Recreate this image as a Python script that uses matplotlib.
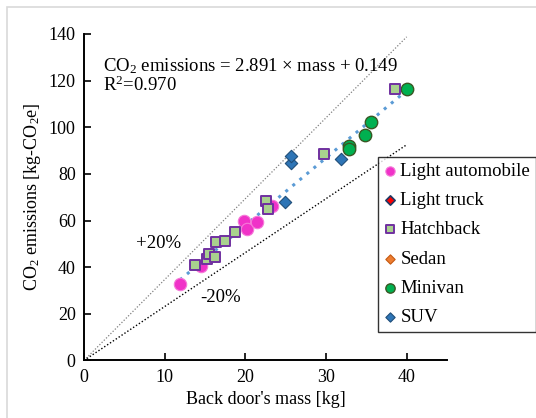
import numpy as np
import matplotlib.pyplot as plt
from matplotlib.patches import Rectangle

plt.rcParams['font.family'] = 'Liberation Serif'
plt.rcParams['mathtext.fontset'] = 'custom'
plt.rcParams['mathtext.rm'] = 'Liberation Serif'
plt.rcParams['mathtext.it'] = 'Liberation Serif:italic'

# back door mass [kg] / CO2 emissions [kg-CO2e] per vehicle type
light_auto_mass = [11.9, 14.5, 19.8, 20.2, 21.4, 23.3]
light_auto_co2 = [32.8, 40.3, 60.0, 56.4, 59.3, 66.4]
light_truck_mass = []
light_truck_co2 = []
hatch_mass = [13.75, 15.3, 15.5, 16.3, 16.4, 17.5, 18.7, 22.6, 22.8, 29.7, 38.6]
hatch_co2 = [41.0, 43.4, 45.7, 44.5, 50.6, 51.4, 55.2, 68.5, 64.9, 88.5, 116.5]
sedan_mass = []
sedan_co2 = []
minivan_mass = [32.8, 32.9, 34.8, 35.6, 40.0]
minivan_co2 = [91.8, 90.6, 96.8, 102.2, 116.5]
suv_mass = [24.9, 25.6, 25.7, 31.8]
suv_co2 = [68.0, 84.6, 87.8, 86.3]

slope = 2.891
intercept = 0.149
r2 = 0.970

fig = plt.figure(figsize=(5.36, 4.18), dpi=100)
ax = fig.add_axes([0.1567, 0.1376, 0.6773, 0.7811])

# chart area border
fig.patches.append(Rectangle((7 / 536, -0.1), 1.2, (418 - 7) / 418 + 0.1,
                             transform=fig.transFigure, fill=False,
                             edgecolor='#d9d9d9', linewidth=1.2, zorder=0))

# +/-20% guide lines
gx = np.array([0, 40])
ax.plot(gx, gx * slope * 1.2, color='#808080', linestyle=(0, (1, 1.5)), linewidth=0.9, zorder=1)
ax.plot(gx, gx * slope * 0.8, color='black', linestyle=(0, (1, 1.5)), linewidth=1.0, zorder=1)

# trend line
all_mass = light_auto_mass + hatch_mass + minivan_mass + suv_mass
tx = np.array([min(all_mass), max(all_mass)])
ax.plot(tx, slope * tx + intercept, color='#5b9bd5', linestyle=(0, (1, 2)),
        linewidth=2.2, zorder=2)

ax.scatter(light_auto_mass, light_auto_co2, marker='o', s=80, color='#f032c8',
           edgecolors='#f57ad8', linewidths=0.8, label='Light automobile', zorder=3)
ax.scatter(light_truck_mass, light_truck_co2, marker='D', s=40, color='#ff0000',
           edgecolors='#1f3864', linewidths=1.2, label='Light truck', zorder=3)
ax.scatter(hatch_mass, hatch_co2, marker='s', s=60, color='#a9d18e',
           edgecolors='#7030a0', linewidths=1.4, label='Hatchback', zorder=4)
ax.scatter(sedan_mass, sedan_co2, marker='D', s=40, color='#ed7d31',
           edgecolors='#c55a11', linewidths=0.8, label='Sedan', zorder=3)
ax.scatter(minivan_mass, minivan_co2, marker='o', s=80, color='#00b050',
           edgecolors='#385723', linewidths=1.0, label='Minivan', zorder=3)
ax.scatter(suv_mass, suv_co2, marker='D', s=40, color='#2e75b6',
           edgecolors='#1f4e79', linewidths=0.8, label='SUV', zorder=3)

ax.text(2.3, 126, 'CO$_2$ emissions = %.3f \u00d7 mass + %.3f' % (slope, intercept),
        fontsize=13.5, va='center')
ax.text(2.3, 118, 'R$^2$=%.3f' % r2, fontsize=13.5, va='center')
ax.text(9.2, 50.3, '+20%', fontsize=13.5, ha='center', va='center')
ax.text(16.9, 27.1, '-20%', fontsize=13.5, ha='center', va='center')

ax.set_xlim(0, 45)
ax.set_ylim(0, 140)
ax.set_xticks([0, 10, 20, 30, 40])
ax.set_yticks(range(0, 141, 20))
ax.tick_params(direction='in', length=5, width=1.2, labelsize=13, pad=6)
for s in ['top', 'right']:
    ax.spines[s].set_visible(False)
for s in ['left', 'bottom']:
    ax.spines[s].set_linewidth(1.4)

ax.set_xlabel("Back door's mass [kg]", fontsize=13, labelpad=4)
ax.set_ylabel('CO$_2$ emissions [kg-CO$_2$e]', fontsize=13, labelpad=4)

leg = ax.legend(loc='upper left', bbox_to_anchor=(378 / 536, 1 - 157 / 418),
                bbox_transform=fig.transFigure, fontsize=13.5, frameon=True,
                fancybox=False, edgecolor='black', handletextpad=0.2,
                handlelength=0.7, borderpad=0.3, labelspacing=0.65,
                markerscale=0.75, borderaxespad=0)
leg.get_frame().set_linewidth(1.0)

fig.savefig('out.png', dpi=100)
